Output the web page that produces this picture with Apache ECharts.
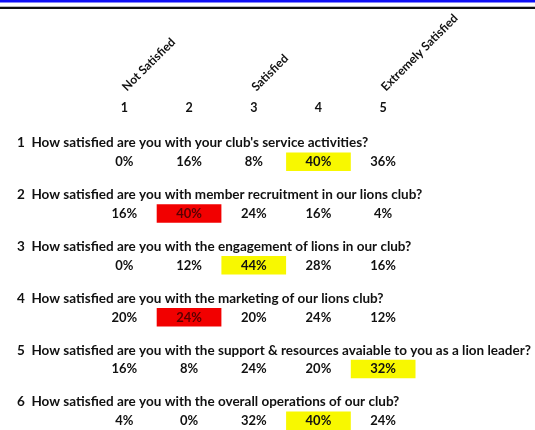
<!DOCTYPE html>
<html><head><meta charset="utf-8">
<script src="https://cdn.jsdelivr.net/npm/echarts@6/dist/echarts.min.js"></script>
<style>html,body{margin:0;padding:0;background:#fff}#c{width:535px;height:430px}</style>
</head><body><div id="c"></div>
<script>
const scaleNumbers = ['1','2','3','4','5'];
const scaleNames = ['Not Satisfied','','Satisfied','','Extremely Satisfied'];
const questions = [
  "1  How satisfied are you with your club's service activities?",
  "2  How satisfied are you with member recruitment in our lions club?",
  "3  How satisfied are you with the engagement of lions in our club?",
  "4  How satisfied are you with the marketing of our lions club?",
  "5  How satisfied are you with the support & resources avaiable to you as a lion leader?",
  "6  How satisfied are you with the overall operations of our club?"
];
const q1 = [0,16,8,40,36];
const q2 = [16,40,24,16,4];
const q3 = [0,12,44,28,16];
const q4 = [20,24,20,24,12];
const q5 = [16,8,24,20,32];
const q6 = [4,0,32,40,24];
// [question index, column index, highlight type]
const highlights = [[0,3,'yellow'],[1,1,'red'],[2,2,'yellow'],[3,1,'red'],[4,4,'yellow'],[5,3,'yellow']];

const rows = [q1,q2,q3,q4,q5,q6];
const data = [];
rows.forEach((r,qi)=>r.forEach((v,ci)=>{
  const h = highlights.find(x=>x[0]===qi&&x[1]===ci);
  data.push([ci, qi, v, h ? (h[2]==='yellow'?1:2) : 0]);
}));
const FONT = 'Lato, "Open Sans", sans-serif';
const chart = echarts.init(document.getElementById('c'));
chart.setOption({
  animation:false,
  backgroundColor:'#ffffff',
  graphic:[
    {type:'rect', shape:{x:0,y:0,width:535,height:2.5}, style:{fill:'#1010f5'}},
    {type:'rect', shape:{x:0,y:6,width:535,height:1}, style:{fill:'#bbbbbb'}},
    {type:'rect', shape:{x:0,y:7,width:535,height:2}, style:{fill:'#111111'}}
  ],
  grid:{left:92, width:323.5, top:136, height:311, containLabel:false, outerBoundsMode:'none'},
  xAxis:[
    {type:'category', data:scaleNumbers, position:'top',
     axisLine:{show:false}, axisTick:{show:false}, splitLine:{show:false},
     axisLabel:{margin:22, fontSize:12.5, fontWeight:'bold', color:'#111', fontFamily:FONT}},
    {type:'category', data:scaleNames, position:'top',
     axisLine:{show:false}, axisTick:{show:false}, splitLine:{show:false},
     axisLabel:{margin:47, rotate:-45, interval:0, fontSize:12, fontWeight:'bold', color:'#111', fontFamily:FONT}}
  ],
  yAxis:{type:'category', data:questions, inverse:true, z:5,
    axisLine:{show:false}, axisTick:{show:false}, splitLine:{show:false},
    axisLabel:{interval:0, align:'left', margin:75, fontSize:13.5, fontWeight:'bold', color:'#111',
      fontFamily:FONT, lineHeight:38, formatter:function(v){return v+'\n ';}}},
  series:[{
    type:'custom', coordinateSystem:'cartesian2d', data:data,
    encode:{x:0,y:1},
    renderItem:function(params, api){
      const c = api.coord([api.value(0), api.value(1)]);
      const w = api.size([1,0])[0];
      const hl = api.value(3);
      const ch = [];
      if(hl){
        ch.push({type:'rect', shape:{x:c[0]-w/2, y:c[1]-9.5, width:w, height:18.5},
          style:{fill: hl===1 ? '#f8f800' : '#f20000'}});
      }
      ch.push({type:'text', style:{text: api.value(2)+'%', x:c[0], y:c[1], align:'center', verticalAlign:'middle',
        font:'bold 13px '+FONT, fill: hl===2 ? '#5a0000' : '#111'}});
      return {type:'group', children:ch};
    }
  }]
});
</script></body></html>
